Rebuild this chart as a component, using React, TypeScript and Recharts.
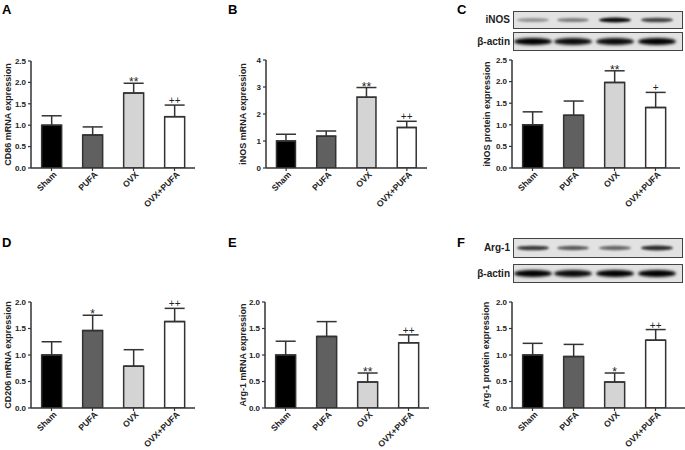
import React from 'react';
import { BarChart, Bar, XAxis, YAxis, ErrorBar, Cell, LabelList } from 'recharts';

const groups = ['Sham', 'PUFA', 'OVX', 'OVX+PUFA'];
const barColors = ['#000000', '#606060', '#d4d4d4', '#ffffff'];

const cd86Mean = [1.0, 0.77, 1.75, 1.2];
const cd86Upper = [1.22, 0.96, 1.98, 1.47];
const cd86Marks = ['', '', '**', '++'];

const inosMrnaMean = [1.0, 1.18, 2.62, 1.5];
const inosMrnaUpper = [1.25, 1.37, 2.98, 1.73];
const inosMrnaMarks = ['', '', '**', '++'];

const inosProtMean = [1.0, 1.22, 1.98, 1.4];
const inosProtUpper = [1.3, 1.55, 2.25, 1.75];
const inosProtMarks = ['', '', '**', '+'];

const cd206Mean = [1.0, 1.46, 0.79, 1.63];
const cd206Upper = [1.25, 1.75, 1.1, 1.88];
const cd206Marks = ['', '*', '', '++'];

const arg1MrnaMean = [1.0, 1.35, 0.49, 1.23];
const arg1MrnaUpper = [1.26, 1.63, 0.66, 1.38];
const arg1MrnaMarks = ['', '', '**', '++'];

const arg1ProtMean = [1.0, 0.97, 0.49, 1.28];
const arg1ProtUpper = [1.22, 1.2, 0.66, 1.48];
const arg1ProtMarks = ['', '', '*', '++'];

const ticks25 = [0, 0.5, 1.0, 1.5, 2.0, 2.5];
const ticks20 = [0, 0.5, 1.0, 1.5, 2.0];
const ticks4 = [0, 1, 2, 3, 4];

// western blot band strength per lane (0..1)
const inosBands = [0.35, 0.45, 0.95, 0.7];
const actinBandsC = [1, 0.95, 0.95, 1];
const arg1Bands = [0.75, 0.6, 0.55, 0.8];
const actinBandsF = [1, 0.95, 1, 1];
const laneCenters = [20, 60, 102, 144];

const FONT = '"Liberation Sans", Arial, sans-serif';
const AXIS = '#333';

function XTick(props: any) {
  const { x, y, payload } = props;
  const tx = x + 3.5;
  const ty = y;
  return (
    <text
      x={tx}
      y={ty}
      dy="0.35em"
      transform={`rotate(-45 ${tx} ${ty})`}
      textAnchor="end"
      fontSize={8.6}
      fontWeight="bold"
      fontFamily={FONT}
      style={{ fill: '#222' }}
    >
      {payload.value}
    </text>
  );
}

function YLabel(props: any) {
  const { viewBox, text, dx } = props;
  const cx = viewBox.x + dx;
  const cy = viewBox.y + viewBox.height / 2;
  return (
    <text
      x={cx}
      y={cy}
      dy="0.35em"
      transform={`rotate(-90 ${cx} ${cy})`}
      textAnchor="middle"
      fontSize={9}
      fontWeight="bold"
      fontFamily={FONT}
      style={{ fill: '#222' }}
    >
      {text}
    </text>
  );
}

type PanelProps = {
  left: number;
  top: number;
  zero: number;
  right: number;
  padRight?: number;
  labelX: number;
  max: number;
  ticks: number[];
  digits: number;
  yLabel: string;
  mean: number[];
  upper: number[];
  marks: string[];
};

function Panel({ left, top, zero, right, padRight = 0, labelX, max, ticks, digits, yLabel, mean, upper, marks }: PanelProps) {
  const data = groups.map((g, i) => ({
    name: g,
    value: mean[i],
    err: [0, +(upper[i] - mean[i]).toFixed(3)],
    mark: marks[i],
  }));
  const yw = 32;
  const mt = 12;
  const xh = 60;
  const w = right - left + yw + 2;
  const h = zero - top + mt + xh;

  const renderMark = (p: any) => {
    const { x, y, width, height, index } = p;
    const d = data[index];
    if (!d || !d.mark) return null;
    const errTop = y - ((upper[index] - d.value) * height) / d.value;
    const star = d.mark.includes('*');
    return (
      <text
        x={x + width / 2}
        y={star ? errTop + 3 : errTop - 1}
        textAnchor="middle"
        fontSize={star ? 12 : 10}
        fontFamily={FONT}
        style={{ fill: '#222', stroke: 'none' }}
      >
        {d.mark}
      </text>
    );
  };

  return (
    <div style={{ position: 'absolute', left: left - yw, top: top - mt }}>
      <BarChart
        width={w}
        height={h}
        data={data}
        margin={{ top: mt, right: 2, left: 0, bottom: 0 }}
        barCategoryGap="26%"
      >
        <XAxis
          dataKey="name"
          height={xh}
          interval={0}
          padding={{ left: 0, right: padRight }}
          axisLine={{ stroke: AXIS, strokeWidth: 1.5 }}
          tickLine={{ stroke: AXIS, strokeWidth: 1.2 }}
          tickSize={3}
          tick={<XTick />}
        />
        <YAxis
          width={yw}
          domain={[0, max]}
          ticks={ticks}
          interval={0}
          allowDataOverflow
          tickFormatter={(v: number) => v.toFixed(digits)}
          axisLine={{ stroke: AXIS, strokeWidth: 1.5 }}
          tickLine={{ stroke: AXIS, strokeWidth: 1.2 }}
          tickSize={3}
          tick={{ fontSize: 8, fontWeight: 'bold', fill: '#222', fontFamily: FONT }}
          label={<YLabel text={yLabel} dx={yw - (left - labelX)} />}
        />
        <Bar dataKey="value" stroke={AXIS} strokeWidth={1.5} isAnimationActive={false}>
          {data.map((d, i) => (
            <Cell key={d.name} fill={barColors[i]} />
          ))}
          <ErrorBar dataKey="err" direction="y" width={10} stroke={AXIS} strokeWidth={1.5} />
          <LabelList dataKey="mark" content={renderMark} />
        </Bar>
      </BarChart>
    </div>
  );
}

function Blot({ id, left, top, height, bands, thick, name }: any) {
  const w = 170;
  return (
    <>
      <div
        style={{
          position: 'absolute',
          left: left - 60,
          width: 57,
          top,
          height,
          lineHeight: `${height}px`,
          textAlign: 'right',
          fontSize: 10,
          fontWeight: 'bold',
          color: '#222',
        }}
      >
        {name}
      </div>
      <svg style={{ position: 'absolute', left, top }} width={w} height={height}>
        <defs>
          <filter id={id} x="-20%" y="-100%" width="140%" height="300%">
            <feGaussianBlur stdDeviation={thick ? 1.4 : 1.1} />
          </filter>
        </defs>
        <rect x={0.5} y={0.5} width={w - 1} height={height - 1} fill="#e2e2e2" stroke="#444" />
        {bands.map((b: number, i: number) => (
          <ellipse
            key={i}
            cx={laneCenters[i]}
            cy={height / 2}
            rx={thick ? 19 : 16}
            ry={thick ? 3.6 : 1.6 + b}
            fill="#000"
            opacity={b}
            filter={`url(#${id})`}
          />
        ))}
      </svg>
    </>
  );
}

const letterStyle: React.CSSProperties = {
  position: 'absolute',
  fontSize: 13,
  fontWeight: 'bold',
  color: '#000',
  lineHeight: '13px',
};

export default function App() {
  return (
    <div
      style={{
        position: 'absolute',
        left: 0,
        top: 0,
        width: 685,
        height: 450,
        background: '#fff',
        overflow: 'hidden',
        fontFamily: FONT,
      }}
    >
      <div style={{ ...letterStyle, left: 2, top: 3 }}>A</div>
      <div style={{ ...letterStyle, left: 228, top: 3 }}>B</div>
      <div style={{ ...letterStyle, left: 457, top: 3 }}>C</div>
      <div style={{ ...letterStyle, left: 2, top: 236 }}>D</div>
      <div style={{ ...letterStyle, left: 228, top: 236 }}>E</div>
      <div style={{ ...letterStyle, left: 457, top: 236 }}>F</div>

      <Blot id="bC1" left={513} top={11} height={18} bands={inosBands} name="iNOS" />
      <Blot id="bC2" left={513} top={32} height={19} bands={actinBandsC} thick name="β-actin" />
      <Blot id="bF1" left={513} top={238} height={20} bands={arg1Bands} name="Arg-1" />
      <Blot id="bF2" left={513} top={264} height={19} bands={actinBandsF} thick name="β-actin" />

      <Panel left={31} top={61} zero={168} right={195} labelX={8} max={2.5} ticks={ticks25} digits={1}
        yLabel="CD86 mRNA expression" mean={cd86Mean} upper={cd86Upper} marks={cd86Marks} />
      <Panel left={266} top={60} zero={168} right={427} labelX={243} max={4} ticks={ticks4} digits={0}
        yLabel="iNOS mRNA expression" mean={inosMrnaMean} upper={inosMrnaUpper} marks={inosMrnaMarks} />
      <Panel left={512} top={60} zero={168} right={680} padRight={4} labelX={487} max={2.5} ticks={ticks25} digits={1}
        yLabel="iNOS protein expression" mean={inosProtMean} upper={inosProtUpper} marks={inosProtMarks} />
      <Panel left={31} top={302} zero={408} right={195} labelX={8} max={2} ticks={ticks20} digits={1}
        yLabel="CD206 mRNA expression" mean={cd206Mean} upper={cd206Upper} marks={cd206Marks} />
      <Panel left={265} top={302} zero={408} right={429} labelX={243} max={2} ticks={ticks20} digits={1}
        yLabel="Arg-1 mRNA expression" mean={arg1MrnaMean} upper={arg1MrnaUpper} marks={arg1MrnaMarks} />
      <Panel left={512} top={302} zero={408} right={685} padRight={9} labelX={486} max={2} ticks={ticks20} digits={1}
        yLabel="Arg-1 protein expression" mean={arg1ProtMean} upper={arg1ProtUpper} marks={arg1ProtMarks} />
    </div>
  );
}
